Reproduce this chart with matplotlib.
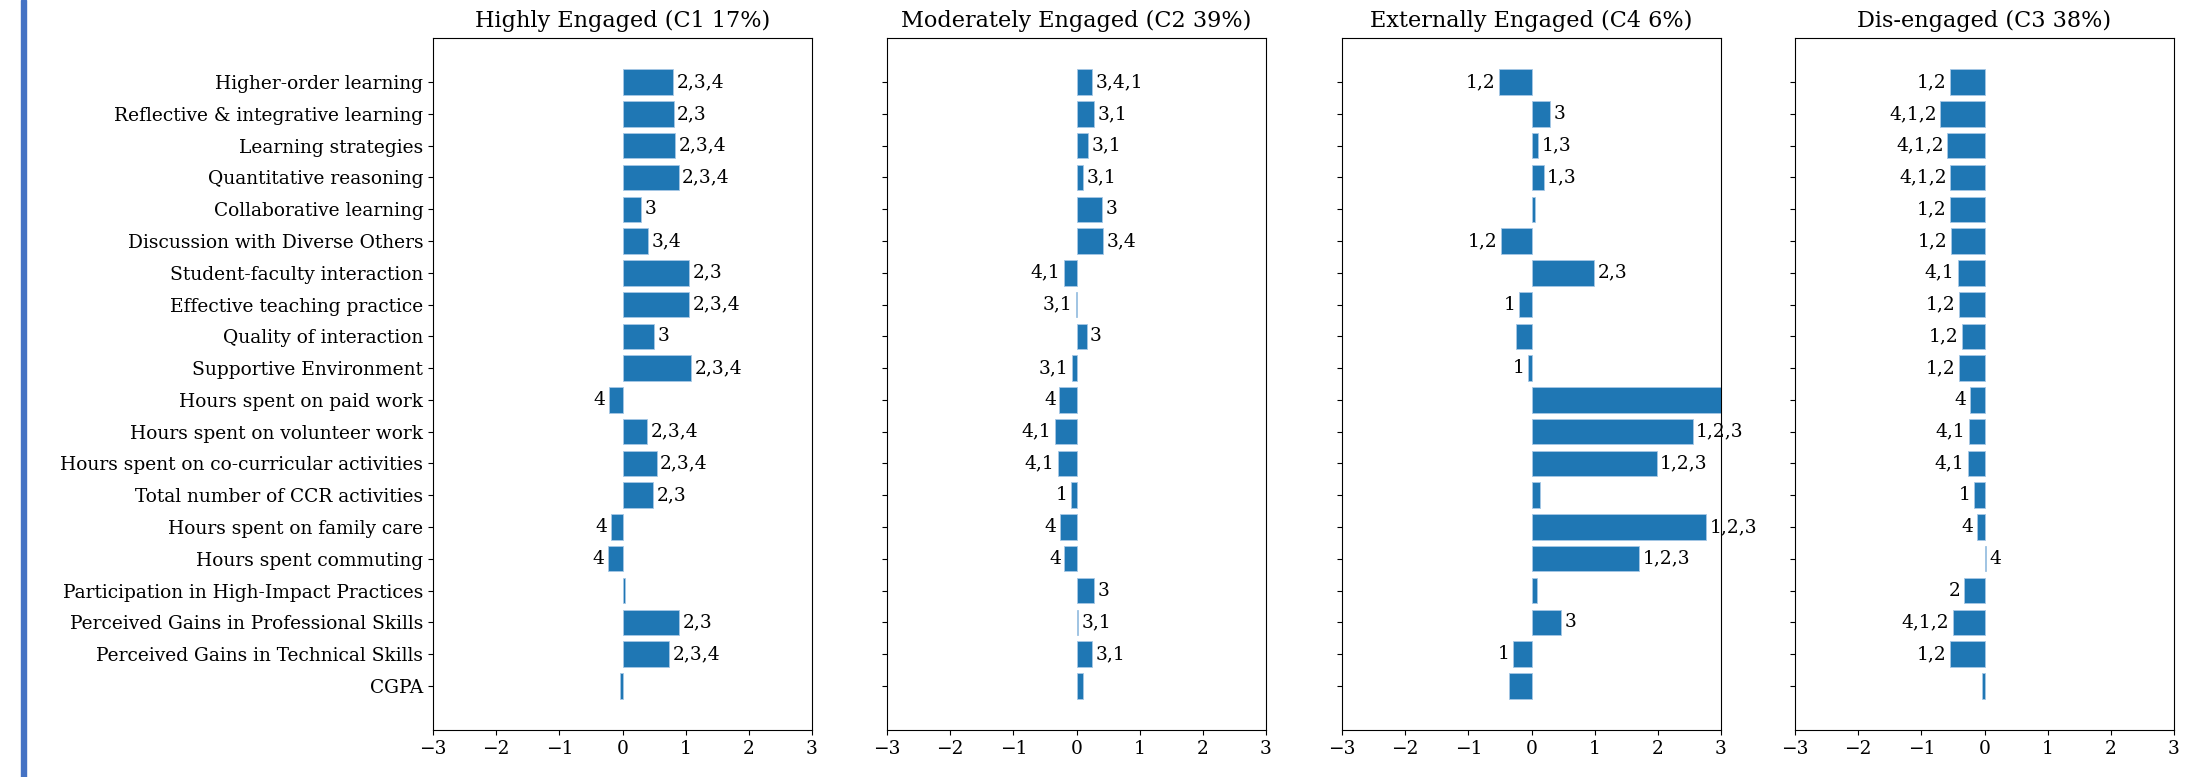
import matplotlib
matplotlib.use("Agg")
import matplotlib.pyplot as plt
from matplotlib.patches import Rectangle

plt.rcParams['font.family'] = ['DejaVu Serif']

categories = [
    "Higher-order learning", "Reflective & integrative learning", "Learning strategies",
    "Quantitative reasoning", "Collaborative learning", "Discussion with Diverse Others",
    "Student-faculty interaction", "Effective teaching practice", "Quality of interaction",
    "Supportive Environment", "Hours spent on paid work", "Hours spent on volunteer work",
    "Hours spent on co-curricular activities", "Total number of CCR activities",
    "Hours spent on family care", "Hours spent commuting",
    "Participation in High-Impact Practices", "Perceived Gains in Professional Skills",
    "Perceived Gains in Technical Skills", "CGPA",
]

titles = ["Highly Engaged (C1 17%)", "Moderately Engaged (C2 39%)",
          "Externally Engaged (C4 6%)", "Dis-engaged (C3 38%)"]

c1_values = [0.80, 0.81, 0.83, 0.89, 0.29, 0.40, 1.05, 1.05, 0.50, 1.09,
             -0.21, 0.39, 0.54, 0.49, -0.18, -0.23, 0.04, 0.90, 0.74, -0.04]
c1_labels = ["2,3,4", "2,3", "2,3,4", "2,3,4", "3", "3,4", "2,3", "2,3,4", "3", "2,3,4",
             "4", "2,3,4", "2,3,4", "2,3", "4", "4", "", "2,3", "2,3,4", ""]

c2_values = [0.25, 0.28, 0.18, 0.11, 0.40, 0.42, -0.20, -0.01, 0.16, -0.07,
             -0.27, -0.34, -0.30, -0.08, -0.26, -0.19, 0.28, 0.02, 0.25, 0.11]
c2_labels = ["3,4,1", "3,1", "3,1", "3,1", "3", "3,4", "4,1", "3,1", "3", "3,1",
             "4", "4,1", "4,1", "1", "4", "4", "3", "3,1", "3,1", ""]

c4_values = [-0.52, 0.30, 0.11, 0.19, 0.06, -0.48, 0.99, -0.20, -0.24, -0.05,
             3.40, 2.55, 1.98, 0.14, 2.77, 1.70, 0.08, 0.47, -0.29, -0.35]
c4_labels = ["1,2", "3", "1,3", "1,3", "", "1,2", "2,3", "1", "", "1",
             "", "1,2,3", "1,2,3", "", "1,2,3", "1,2,3", "", "3", "1", ""]

c3_values = [-0.54, -0.70, -0.59, -0.54, -0.55, -0.53, -0.42, -0.41, -0.36, -0.41,
             -0.23, -0.25, -0.26, -0.16, -0.12, 0.02, -0.33, -0.50, -0.54, -0.04]
c3_labels = ["1,2", "4,1,2", "4,1,2", "4,1,2", "1,2", "1,2", "4,1", "1,2", "1,2", "1,2",
             "4", "4,1", "4,1", "1", "4", "4", "2", "4,1,2", "1,2", ""]

panel_values = [c1_values, c2_values, c4_values, c3_values]
panel_labels = [c1_labels, c2_labels, c4_labels, c3_labels]
xticks = [-3, -2, -1, 0, 1, 2, 3]

W, H = 2193, 777
fig = plt.figure(figsize=(W / 100, H / 100), dpi=100)

lefts = [433, 887, 1342, 1795]
pw = 379
top_px, bot_px = 38, 730
FS = 13.4

ypos = list(range(len(categories)))
for i in range(4):
    ax = fig.add_axes([lefts[i] / W, 1 - bot_px / H, pw / W, (bot_px - top_px) / H])
    vals = panel_values[i]
    ax.barh(ypos, vals, height=0.8, color="#1f77b4", edgecolor="#a6c8e6", linewidth=0.6)
    ax.set_xlim(-3, 3)
    ax.set_xticks(xticks)
    ax.set_yticks(ypos)
    if i == 0:
        ax.set_yticklabels(categories, fontsize=FS)
    else:
        ax.set_yticklabels([])
    ax.invert_yaxis()
    ax.tick_params(axis='x', labelsize=FS)
    ax.set_title(titles[i], fontsize=16.1, pad=8)
    for y, v, lab in zip(ypos, vals, panel_labels[i]):
        if not lab:
            continue
        if v >= 0:
            ax.annotate(lab, xy=(v, y), xytext=(2.5, 0), textcoords='offset points',
                        ha='left', va='center', fontsize=FS)
        else:
            ax.annotate(lab, xy=(v, y), xytext=(-2.5, 0), textcoords='offset points',
                        ha='right', va='center', fontsize=FS)

# left decorative border
fig.add_artist(Rectangle((21 / W, 0), 4.5 / W, 1, transform=fig.transFigure,
                         color="#4472C4", zorder=10))

fig.savefig("out.png", dpi=100)
